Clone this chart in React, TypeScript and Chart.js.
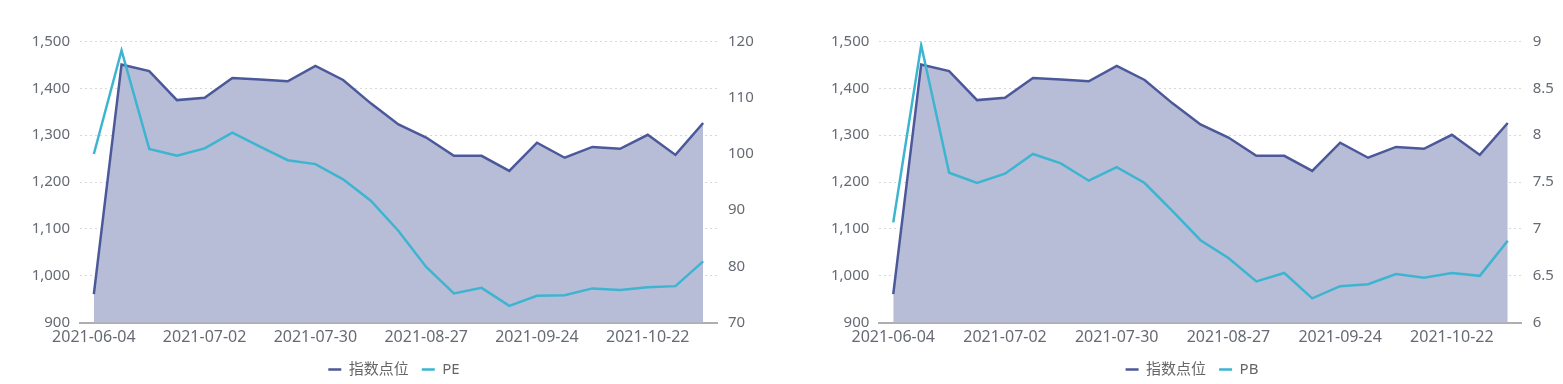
import React, { useEffect, useRef } from 'react';
import { Chart, registerables } from 'chart.js';

Chart.register(...registerables);

const dates = [
  '2021-06-04', '2021-06-11', '2021-06-18', '2021-06-25', '2021-07-02', '2021-07-09',
  '2021-07-16', '2021-07-23', '2021-07-30', '2021-08-06', '2021-08-13', '2021-08-20',
  '2021-08-27', '2021-09-03', '2021-09-10', '2021-09-17', '2021-09-24', '2021-10-01',
  '2021-10-08', '2021-10-15', '2021-10-22', '2021-10-29', '2021-11-05',
];

const indexValues = [
  961, 1451, 1437, 1375, 1380, 1422, 1419, 1415, 1448, 1418, 1368, 1323,
  1295, 1256, 1256, 1224, 1284, 1252, 1275, 1271, 1301, 1258, 1326,
];

const peValues = [
  100.0, 118.4, 100.9, 99.7, 101.0, 103.8, 101.3, 98.9, 98.2, 95.5, 91.7, 86.3,
  79.9, 75.2, 76.2, 73.0, 74.8, 74.9, 76.1, 75.8, 76.3, 76.5, 80.9,
];

const pbValues = [
  7.07, 8.96, 7.6, 7.49, 7.59, 7.8, 7.7, 7.515, 7.66, 7.49, 7.19, 6.88,
  6.69, 6.44, 6.53, 6.26, 6.39, 6.41, 6.52, 6.48, 6.53, 6.5, 6.875,
];

const indexAxis = { min: 900, max: 1500, step: 100 };
const peAxis = { min: 70, max: 120, step: 10 };
const pbAxis = { min: 6, max: 9, step: 0.5 };

const seriesIndexName = '指数点位';

const FONT = "'Noto Sans', 'Noto Sans CJK SC', sans-serif";
const TEXT = '#666a73';

type PanelProps = {
  left: number;
  ratioName: string;
  ratioValues: number[];
  ratioAxis: { min: number; max: number; step: number };
  leftAxisWidth: number;
  rightAxisWidth: number;
};

function Panel({ left, ratioName, ratioValues, ratioAxis, leftAxisWidth, rightAxisWidth }: PanelProps) {
  const ref = useRef<HTMLCanvasElement | null>(null);
  useEffect(() => {
    if (!ref.current) return;
    const chart = new Chart(ref.current, {
      type: 'line',
      data: {
        labels: dates,
        datasets: [
          {
            label: seriesIndexName,
            data: indexValues,
            yAxisID: 'y',
            borderColor: '#4b5899',
            backgroundColor: '#b7bcd7',
            borderWidth: 2.5,
            fill: 'start',
            pointRadius: 0,
            tension: 0,
            order: 1,
          },
          {
            label: ratioName,
            data: ratioValues,
            yAxisID: 'y1',
            borderColor: '#3db5d0',
            backgroundColor: '#3db5d0',
            borderWidth: 2.5,
            fill: false,
            pointRadius: 0,
            tension: 0,
            order: 0,
          },
        ],
      },
      options: {
        responsive: false,
        animation: false,
        devicePixelRatio: 1,
        layout: { padding: { top: 41.5, left: 0, right: 0, bottom: 0 } },
        plugins: {
          tooltip: { enabled: false },
          legend: {
            position: 'bottom',
            labels: {
              usePointStyle: true,
              pointStyle: 'line',
              pointStyleWidth: 13,
              padding: 13,
              color: '#666',
              font: { family: FONT, size: 15 },
              sort: (a: any, b: any) => a.datasetIndex - b.datasetIndex,
            },
          },
        },
        scales: {
          x: {
            type: 'category',
            offset: true,
            grid: { display: false, drawTicks: false },
            border: { display: true, color: '#aeaeae', width: 2 },
            ticks: {
              autoSkip: false,
              maxRotation: 0,
              padding: 5,
              color: TEXT,
              font: { family: FONT, size: 16 },
              callback: (_v: any, i: number) => (i % 4 === 0 ? dates[i] : ''),
            },
            afterFit: (s: any) => { s.height = 26.3; },
          },
          y: {
            position: 'left',
            min: indexAxis.min,
            max: indexAxis.max,
            grid: { color: '#d8d8d8', lineWidth: 1, drawTicks: false },
            border: { display: false, dash: [2, 3] },
            ticks: {
              stepSize: indexAxis.step,
              padding: 10,
              color: TEXT,
              font: { family: FONT, size: 15 },
              callback: (v: any) => Number(v).toLocaleString('en-US'),
            },
            afterFit: (s: any) => { s.width = leftAxisWidth; },
          },
          y1: {
            position: 'right',
            min: ratioAxis.min,
            max: ratioAxis.max,
            grid: { drawOnChartArea: false, drawTicks: false },
            border: { display: false },
            ticks: {
              stepSize: ratioAxis.step,
              padding: 11,
              color: TEXT,
              font: { family: FONT, size: 15 },
              callback: (v: any) => String(v),
            },
            afterFit: (s: any) => { s.width = rightAxisWidth; },
          },
        },
      },
    } as any);
    return () => chart.destroy();
  }, []);
  return (
    <canvas
      ref={ref}
      width={788}
      height={387}
      style={{ position: 'absolute', left, top: 0, width: 788, height: 387 }}
    />
  );
}

export default function App() {
  return (
    <div style={{ position: 'fixed', left: 0, top: 0, width: 1563, height: 384, overflow: 'hidden', background: '#fff' }}>
      <Panel left={0} ratioName="PE" ratioValues={peValues} ratioAxis={peAxis} leftAxisWidth={80} rightAxisWidth={71} />
      <Panel left={798} ratioName="PB" ratioValues={pbValues} ratioAxis={pbAxis} leftAxisWidth={81.3} rightAxisWidth={64.3} />
    </div>
  );
}
